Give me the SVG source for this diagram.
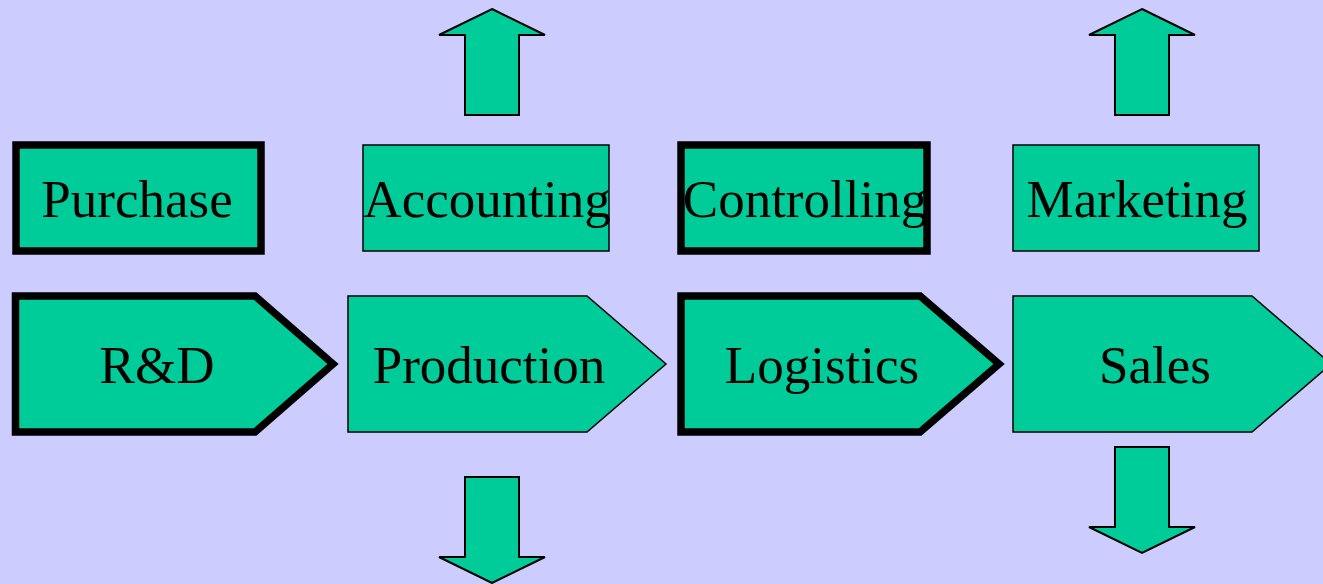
<svg xmlns="http://www.w3.org/2000/svg" width="1323" height="584" viewBox="0 0 1323 584">
<style>
.shape{fill:#00CC99;stroke:#000;stroke-width:1.5;stroke-linejoin:miter}
.thick{stroke-width:7.5}
.arr{fill:#00CC99;stroke:#000;stroke-width:2;stroke-linejoin:miter}
.lbl{font-family:"Liberation Serif","Times New Roman",serif;font-size:53px;fill:#000;text-anchor:middle}
</style>
<rect x="0" y="0" width="1323" height="584" fill="#CCCCFF"/>
<g id="purchase"><rect class="shape thick" x="16" y="145" width="245" height="106"/><text class="lbl" x="137" y="217">Purchase</text></g>
<g id="accounting"><rect class="shape" x="363" y="145" width="246" height="106"/><text class="lbl" x="487" y="217">Accounting</text></g>
<g id="controlling"><rect class="shape thick" x="681" y="145" width="246" height="106"/><text class="lbl" x="805" y="217">Controlling</text></g>
<g id="marketing"><rect class="shape" x="1013" y="145" width="246" height="106"/><text class="lbl" x="1137" y="217">Marketing</text></g>
<g id="rd"><path class="shape thick" d="M15.5,296 H255 L333,364 L255,432 H15.5 Z"/><text class="lbl" x="157" y="383">R&amp;D</text></g>
<g id="production"><path class="shape" d="M348,296 H587 L666,364 L587,432 H348 Z"/><text class="lbl" x="489" y="383">Production</text></g>
<g id="logistics"><path class="shape thick" d="M681,296 H920 L999,364 L920,432 H681 Z"/><text class="lbl" x="822" y="383">Logistics</text></g>
<g id="sales"><path class="shape" d="M1013,296 H1252 L1331,364 L1252,432 H1013 Z"/><text class="lbl" x="1155" y="383">Sales</text></g>
<g id="connectors">
<path class="arr" d="M492,9 L545,35 H519 V115 H465 V35 H439 Z"/>
<path class="arr" d="M1142,9 L1195,35 H1169 V115 H1115 V35 H1089 Z"/>
<path class="arr" d="M465,477 H519 V557 H545 L492,583 L439,557 H465 Z"/>
<path class="arr" d="M1115,447 H1169 V527 H1195 L1142,553 L1089,527 H1115 Z"/>
</g>
</svg>
